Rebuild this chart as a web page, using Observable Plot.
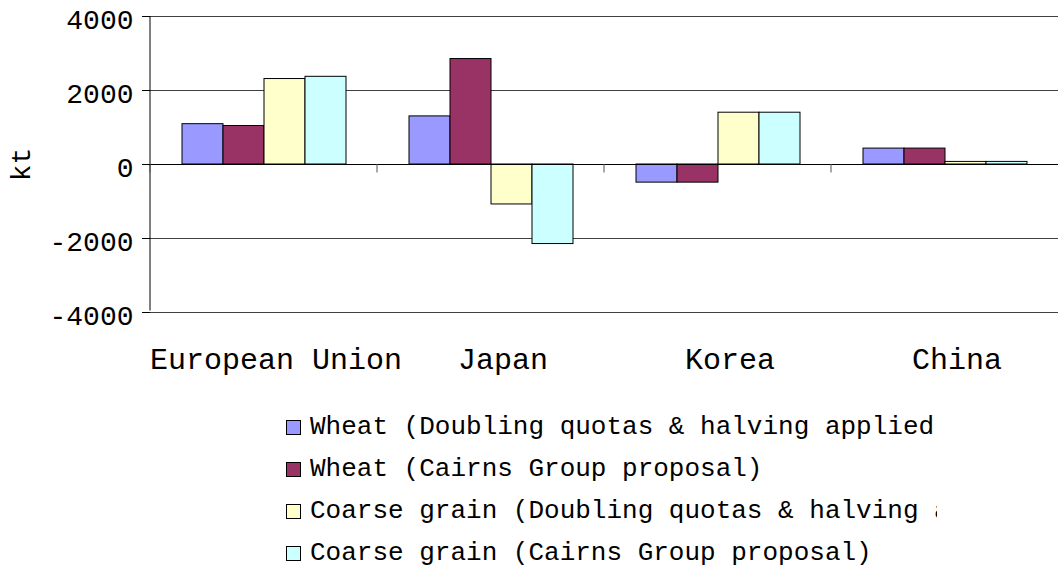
<!DOCTYPE html>
<html><head><meta charset="utf-8">
<script src="https://cdn.jsdelivr.net/npm/d3@7"></script>
<script src="https://cdn.jsdelivr.net/npm/@observablehq/plot@0.6"></script>
<style>
body{margin:0;background:#fff;}
#chart{width:1059px;overflow:hidden;font-family:"Liberation Mono","Courier New",monospace;color:#000;}
.legend{margin-top:16px;}
.row{display:flex;align-items:center;height:42px;margin-left:286px;}
.sw{width:15px;height:15px;box-sizing:border-box;border:1px solid #000;margin-right:9px;flex:none;}
.lt{font-size:26px;white-space:nowrap;overflow:hidden;width:627px;line-height:42px;}
</style></head><body><div id="chart"></div>
<script>
const categories = ["European Union", "Japan", "Korea", "China"];
const seriesNames = [
  "Wheat (Doubling quotas & halving applied tariffs)",
  "Wheat (Cairns Group proposal)",
  "Coarse grain (Doubling quotas & halving applied tariffs)",
  "Coarse grain (Cairns Group proposal)"
];
const wheatDoubling = [1090, 1300, -490, 430];
const wheatCairns = [1040, 2850, -490, 430];
const coarseDoubling = [2310, -1080, 1400, 70];
const coarseCairns = [2370, -2150, 1400, 70];
const yTicks = [-4000, -2000, 0, 2000, 4000];
const gridValues = [-4000, -2000, 2000, 4000];
const colors = ["#9999FF", "#993366", "#FFFFCC", "#CCFFFF"];

const seriesValues = [wheatDoubling, wheatCairns, coarseDoubling, coarseCairns];
const data = [];
categories.forEach((c, ci) => seriesValues.forEach((vals, si) => data.push({category: c, series: seriesNames[si], value: vals[ci]})));

const width = 1059, height = 390, marginLeft = 148, marginRight = 0, marginTop = 16, marginBottom = 78;
const facetW = (width - marginLeft - marginRight) / categories.length;
const frameH = height - marginTop - marginBottom;
const tickLen = 10;

const chart = Plot.plot({
  width, height, marginLeft, marginRight, marginTop, marginBottom,
  style: {fontFamily: '"Liberation Mono","Courier New",monospace', fontSize: "28px", color: "#000", background: "#fff", overflow: "visible"},
  fx: {domain: categories, padding: 0},
  x: {domain: seriesNames, paddingInner: 0, paddingOuter: 0.74, axis: null},
  y: {domain: [-4000, 4000]},
  color: {domain: seriesNames, range: colors},
  marks: [
    Plot.ruleY(gridValues, {stroke: "#404040", strokeWidth: 1}),
    Plot.barY(data, {fx: "category", x: "series", y: "value", fill: "series", stroke: "#000", strokeWidth: 1, inset: 0}),
    Plot.ruleY([0], {stroke: "#000", strokeWidth: 1}),
    Plot.rect([categories[0]], {fx: d => d, y1: -4000, y2: 4000, fill: "none", stroke: "#000", strokeWidth: 1,
      strokeDasharray: `0 ${2 * facetW + frameH} ${frameH}`}),
    Plot.rect(categories, {fx: d => d, y1: 0, y2: -270, fill: "none", stroke: "#555", strokeWidth: 1,
      strokeDasharray: `0 ${2 * facetW + tickLen} ${tickLen}`}),
    Plot.axisY({ticks: yTicks, tickSize: 8, tickFormat: () => "", label: null, stroke: "#000"}),
    Plot.axisY({ticks: yTicks, tickSize: 0, tickPadding: 17, dy: 4, tickFormat: d => String(d),
      label: "kt", labelAnchor: "center", labelOffset: 140, labelArrow: false}),
    Plot.axisFx({anchor: "bottom", tickSize: 0, tickPadding: 35, fontSize: 30, dx: 12, label: null})
  ]
});
document.getElementById("chart").appendChild(chart);

const legend = d3.select("#chart").append("div").attr("class", "legend");
const rows = legend.selectAll(".row").data(seriesNames).join("div").attr("class", "row");
rows.append("span").attr("class", "sw").style("background", (d, i) => colors[i]);
rows.append("span").attr("class", "lt").text(d => d);
</script></body></html>
